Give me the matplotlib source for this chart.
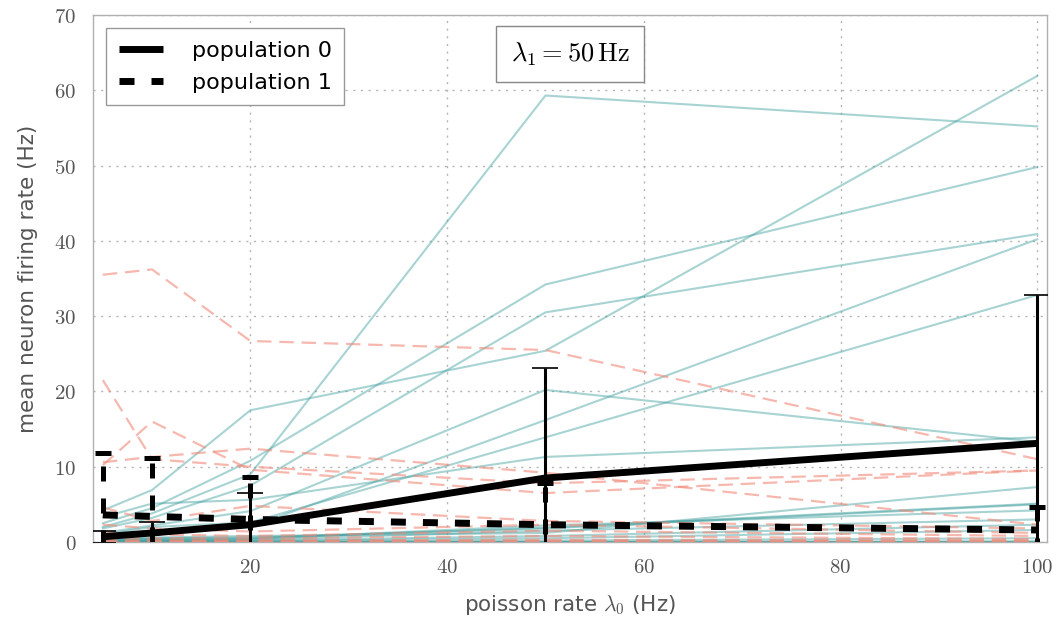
import matplotlib
matplotlib.use("Agg")
import matplotlib.pyplot as plt
from matplotlib.lines import Line2D

plt.rcParams["mathtext.fontset"] = "cm"
plt.rcParams["font.family"] = ["DejaVu Sans"]

# Poisson input rates (Hz)
rates = [5, 10, 20, 50, 100]

# Individual neuron firing rates, population 0
pop0_neurons = [
    [2.0, 3.8, 9.0, 59.3, 55.2],
    [4.2, 6.9, 17.5, 25.4, 61.9],
    [2.5, 4.5, 10.8, 34.2, 49.8],
    [1.8, 3.2, 7.5, 30.5, 40.9],
    [1.2, 2.2, 4.1, 20.2, 13.3],
    [0.8, 1.5, 2.0, 16.2, 40.2],
    [1.0, 2.0, 2.6, 13.9, 32.8],
    [3.3, 5.1, 5.6, 11.3, 13.9],
    [0.3, 0.6, 0.8, 1.2, 7.3],
    [0.2, 0.5, 0.6, 1.8, 5.0],
    [0.2, 0.4, 0.5, 1.9, 5.1],
    [0.1, 0.3, 0.4, 2.2, 4.2],
    [0.1, 0.2, 0.3, 1.5, 3.0],
    [0.0, 0.2, 0.2, 0.8, 2.3],
    [0.0, 0.1, 0.1, 0.5, 1.6],
    [0.0, 0.0, 0.0, 0.2, 0.5],
    [0.0, 0.0, 0.0, 0.0, 0.0],
    [0.0, 0.0, 0.0, 0.0, 0.0],
    [0.0, 0.0, 0.0, 0.0, 0.0],
    [0.0, 0.0, 0.0, 0.0, 0.1],
]

# Individual neuron firing rates, population 1
pop1_neurons = [
    [35.5, 36.2, 26.7, 25.5, 11.0],
    [21.5, 11.0, 10.0, 7.8, 9.5],
    [10.2, 16.0, 9.6, 6.5, 9.5],
    [10.6, 11.3, 12.4, 9.2, 2.3],
    [4.6, 2.8, 4.8, 2.8, 1.8],
    [2.3, 1.8, 1.4, 2.3, 1.2],
    [1.3, 1.0, 0.8, 1.5, 0.8],
    [0.5, 0.5, 0.5, 0.8, 0.4],
    [0.2, 0.2, 0.2, 0.3, 0.2],
    [0.1, 0.1, 0.1, 0.1, 0.1],
    [0.0, 0.0, 0.0, 0.0, 0.0],
    [0.0, 0.0, 0.0, 0.0, 0.0],
    [0.0, 0.0, 0.0, 0.0, 0.0],
]

# Population means and standard deviations
pop0_mean = [0.7, 1.2, 2.3, 8.5, 13.1]
pop0_std = [0.8, 1.5, 4.2, 14.6, 19.7]
pop1_mean = [3.6, 3.4, 3.0, 2.3, 1.6]
pop1_std = [8.2, 7.7, 5.6, 5.5, 3.0]

teal = "#3f9e9e"
salmon = "#f08a78"
grey_txt = "#555555"

fig = plt.figure(figsize=(10.63, 6.23), dpi=100)
ax = fig.add_axes([0.0875, 0.13, 0.8975, 0.846])

for vals in pop0_neurons:
    ax.plot(rates, vals, color=teal, alpha=0.45, lw=1.5, zorder=2)
for vals in pop1_neurons:
    ax.plot(rates, vals, color=salmon, alpha=0.6, lw=1.6,
            dashes=(6.5, 3.5), zorder=2)

# population 0 mean with error bars
ax.errorbar(rates, pop0_mean, yerr=pop0_std, color="black", lw=5,
            elinewidth=2.2, capsize=9.5, capthick=1.2, zorder=5,
            solid_capstyle="butt")

# population 1 mean with dashed error bars
eb1 = ax.errorbar(rates, pop1_mean, yerr=pop1_std, color="black", lw=5,
                  elinewidth=3.6, capsize=5.8, capthick=3.6, zorder=4,
                  dashes=(2.16, 2.45), dash_capstyle="butt")
for coll in eb1[2]:
    coll.set_linestyle((0, (3.0, 3.4)))
    coll.set_capstyle("butt")

ax.set_xlim(4, 101)
ax.set_ylim(0, 70)
ax.set_xticks([20, 40, 60, 80, 100])
ax.set_yticks(range(0, 71, 10))
ax.set_xticklabels([f"${v}$" for v in [20, 40, 60, 80, 100]])
ax.set_yticklabels([f"${v}$" for v in range(0, 71, 10)])
ax.tick_params(length=0, labelsize=15, labelcolor=grey_txt)
ax.tick_params(axis="x", pad=11)
ax.tick_params(axis="y", pad=12)

ax.grid(True, color="#b5b5b5", linestyle=(0, (1.5, 4)), lw=1.0, zorder=0)
for sp in ax.spines.values():
    sp.set_color("#b0b0b0")
    sp.set_linewidth(1.0)

ax.set_xlabel(r"poisson rate $\lambda_0$ (Hz)", fontsize=15.5, color=grey_txt,
              labelpad=11)
ax.set_ylabel("mean neuron firing rate (Hz)", fontsize=15.5, color=grey_txt,
              labelpad=12)

handles = [
    Line2D([], [], color="black", lw=5, solid_capstyle="butt"),
    Line2D([], [], color="black", lw=5, dashes=(2.16, 2.45),
           dash_capstyle="butt"),
]
leg = ax.legend(handles, ["population 0", "population 1"], loc="upper left",
                fontsize=16, handlelength=2.0, fancybox=False,
                edgecolor="#999999", framealpha=1, borderaxespad=0.6,
                handletextpad=1.3, borderpad=0.55, labelspacing=0.55)
leg.get_frame().set_linewidth(1.0)

ax.text(0.5, 0.926, r"$\lambda_1 = 50\,\mathrm{Hz}$", transform=ax.transAxes,
        ha="center", va="center", fontsize=19, zorder=6,
        bbox=dict(boxstyle="square,pad=0.55", fc="white", ec="#888888",
                  lw=1.0))

fig.savefig("out.png", dpi=100)
